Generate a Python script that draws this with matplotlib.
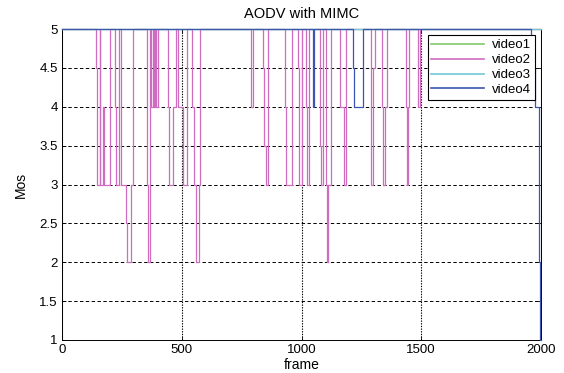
import matplotlib
matplotlib.use("Agg")
import matplotlib.pyplot as plt

plt.rcParams['font.family'] = ['Liberation Sans', 'DejaVu Sans']

# Step series: value holds from frame[i] until frame[i+1]
video1_frames = [0, 2000]
video1_mos = [5, 5]

video2_frames = [0, 143, 148, 158, 160, 170, 176, 199, 220, 227, 237, 245, 266, 272, 288, 296,
                 355, 358, 361, 366, 372, 380, 384, 390, 393, 401, 443, 447, 463, 478, 484, 505,
                 520, 544, 553, 560, 570, 575, 789, 799, 841, 844, 850, 861, 931, 936, 959, 985,
                 990, 1001, 1019, 1025, 1032, 1076, 1080, 1090, 1104, 1107, 1110, 1124, 1159,
                 1178, 1187, 1290, 1300, 1307, 1337, 1341, 1350, 1356, 1436, 1440, 1444, 1450,
                 1485, 1496, 2000]
video2_mos = [5, 4.5, 3, 5, 3, 4, 3, 5, 4, 3, 5, 3, 2.5, 2, 3, 5,
              3, 2.5, 2, 5, 4, 5, 4, 5, 4, 5, 4, 3, 4, 5, 4, 3,
              5, 4, 3, 2, 3, 5, 4, 5, 4.5, 3.5, 3, 5, 4, 3, 5, 4.5,
              3, 5, 4, 3, 5, 3.5, 3, 5, 3, 2, 3, 5, 4,
              3, 5, 3, 4.5, 5, 4, 3, 4, 5, 4, 3, 4, 5,
              4, 5, 5]

video3_frames = [0, 2000]
video3_mos = [5, 5]

video4_frames = [0, 1048, 1050, 1053, 1216, 1220, 1257, 1958, 1975, 1990, 1996, 2000]
video4_mos = [5, 4.5, 4, 5, 4.5, 4, 5, 4.5, 4, 2, 1, 1]

series_names = ['video1', 'video2', 'video3', 'video4']
series_colors = ['#80c870', '#cf6cc0', '#70c8d4', '#3a56b0']
series_widths = [0.9, 0.9, 0.9, 0.9]

xticks = [0, 500, 1000, 1500, 2000]
yticks = [1, 1.5, 2, 2.5, 3, 3.5, 4, 4.5, 5]
ytick_labels = ['1', '1.5', '2', '2.5', '3', '3.5', '4', '4.5', '5']

fig = plt.figure(figsize=(5.64, 3.73), dpi=100)
ax = fig.add_axes([62/564, 1 - 340/373, (541-62)/564, (340-29)/373])

data = [(video1_frames, video1_mos), (video2_frames, video2_mos),
        (video3_frames, video3_mos), (video4_frames, video4_mos)]
for (fr, mo), name, col, lw in zip(data, series_names, series_colors, series_widths):
    ax.plot(fr, mo, drawstyle='steps-post', color=col, lw=lw, label=name,
            clip_on=False, zorder=3)

ax.set_xlim(0, 2000)
ax.set_ylim(1, 5)
ax.set_xticks(xticks)
ax.set_yticks(yticks)
ax.set_yticklabels(ytick_labels)
ax.tick_params(direction='in', labelsize=9.5, length=3, width=0.6, top=True, right=True, pad=3)

ax.yaxis.grid(True, color='black', linestyle=(0, (3.5, 2.5)), linewidth=0.7)
ax.xaxis.grid(True, color='black', linestyle=(0, (1.2, 1.2)), linewidth=0.8)
ax.set_axisbelow(True)
for s in ax.spines.values():
    s.set_linewidth(0.7)
    s.set_color('black')

ax.set_title('AODV with MIMC', fontsize=10.5, pad=8)
ax.set_xlabel('frame', fontsize=10, labelpad=1)
ax.set_ylabel('Mos', fontsize=10, labelpad=8)

leg = ax.legend(loc='upper right', bbox_to_anchor=(0.988, 0.98), fontsize=9.5, frameon=True,
                fancybox=False, edgecolor='black', framealpha=1, handlelength=4.0,
                borderpad=0.3, labelspacing=0.2, handletextpad=0.6, borderaxespad=0)
leg.get_frame().set_linewidth(0.8)
for line in leg.get_lines():
    line.set_linewidth(1.2)
leg.set_zorder(5)

fig.savefig('out.png', dpi=100)
